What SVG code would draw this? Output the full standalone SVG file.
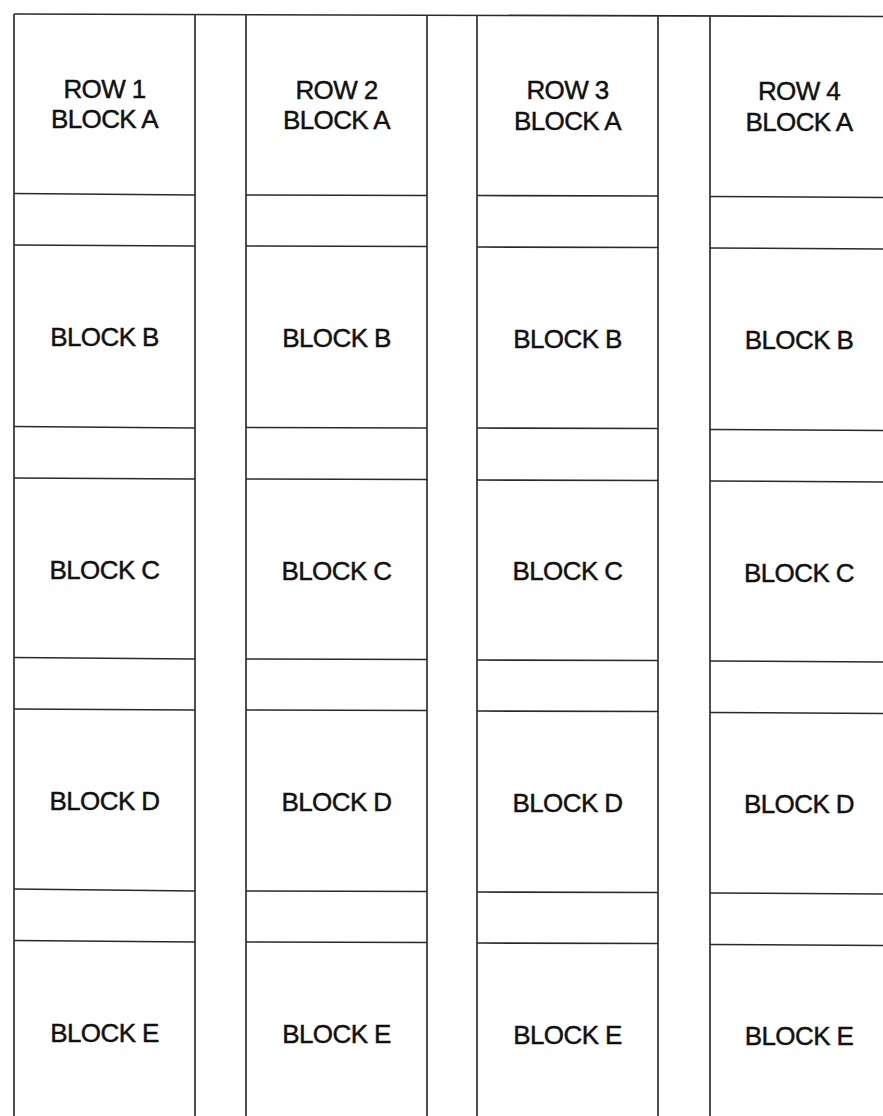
<svg xmlns="http://www.w3.org/2000/svg" width="883" height="1116" viewBox="0 0 883 1116">
<style>
.ln{stroke:#2a2a2a;stroke-width:1.6;fill:none}
.vl{stroke:#3a3a3a;stroke-width:1.8;fill:none}
.t{font-family:"Liberation Sans",Arial,sans-serif;font-size:26px;fill:#111;stroke:#111;stroke-width:0.45;letter-spacing:-0.6px;text-anchor:middle}
</style>
<rect width="883" height="1116" fill="#fff"/>
<g id="grid">
<line class="ln" x1="14" y1="14" x2="883" y2="16.5"/>
<line class="vl" x1="14" y1="14" x2="14" y2="1116"/>
<line class="vl" x1="195" y1="14" x2="195" y2="1116"/>
<line class="vl" x1="246" y1="14" x2="246" y2="1116"/>
<line class="vl" x1="427" y1="15" x2="427" y2="1116"/>
<line class="vl" x1="477" y1="15" x2="477" y2="1116"/>
<line class="vl" x1="658" y1="16" x2="658" y2="1116"/>
<line class="vl" x1="710" y1="16" x2="710" y2="1116"/>
</g>
<g id="col1">
<g id="r1a"><text class="t" x="104.5" y="98">ROW 1</text><text class="t" x="104.5" y="128">BLOCK A</text><line class="ln" x1="14" y1="193.5" x2="195" y2="195"/></g>
<g id="r1b"><line class="ln" x1="14" y1="245" x2="195" y2="246"/><text class="t" x="104.5" y="346">BLOCK B</text><line class="ln" x1="14" y1="426.5" x2="195" y2="428"/></g>
<g id="r1c"><line class="ln" x1="14" y1="478" x2="195" y2="479"/><text class="t" x="104.5" y="579">BLOCK C</text><line class="ln" x1="14" y1="657.5" x2="195" y2="659"/></g>
<g id="r1d"><line class="ln" x1="14" y1="709" x2="195" y2="710"/><text class="t" x="104.5" y="810">BLOCK D</text><line class="ln" x1="14" y1="889" x2="195" y2="891"/></g>
<g id="r1e"><line class="ln" x1="14" y1="940.5" x2="195" y2="942"/><text class="t" x="104.5" y="1042">BLOCK E</text></g>
</g>
<g id="col2">
<g id="r2a"><text class="t" x="336.5" y="99">ROW 2</text><text class="t" x="336.5" y="129">BLOCK A</text><line class="ln" x1="246" y1="195" x2="427" y2="195.5"/></g>
<g id="r2b"><line class="ln" x1="246" y1="246" x2="427" y2="246.5"/><text class="t" x="336.5" y="347">BLOCK B</text><line class="ln" x1="246" y1="427.5" x2="427" y2="428"/></g>
<g id="r2c"><line class="ln" x1="246" y1="479" x2="427" y2="479.5"/><text class="t" x="336.5" y="580">BLOCK C</text><line class="ln" x1="246" y1="659" x2="427" y2="659.5"/></g>
<g id="r2d"><line class="ln" x1="246" y1="710" x2="427" y2="710.5"/><text class="t" x="336.5" y="811">BLOCK D</text><line class="ln" x1="246" y1="891" x2="427" y2="891.5"/></g>
<g id="r2e"><line class="ln" x1="246" y1="942" x2="427" y2="942.5"/><text class="t" x="336.5" y="1043">BLOCK E</text></g>
</g>
<g id="col3">
<g id="r3a"><text class="t" x="567.5" y="99">ROW 3</text><text class="t" x="567.5" y="130">BLOCK A</text><line class="ln" x1="477" y1="195.5" x2="658" y2="196"/></g>
<g id="r3b"><line class="ln" x1="477" y1="247" x2="658" y2="247.5"/><text class="t" x="567.5" y="348">BLOCK B</text><line class="ln" x1="477" y1="428" x2="658" y2="428.5"/></g>
<g id="r3c"><line class="ln" x1="477" y1="480" x2="658" y2="480.5"/><text class="t" x="567.5" y="580">BLOCK C</text><line class="ln" x1="477" y1="660" x2="658" y2="660.5"/></g>
<g id="r3d"><line class="ln" x1="477" y1="711" x2="658" y2="711.5"/><text class="t" x="567.5" y="812">BLOCK D</text><line class="ln" x1="477" y1="892" x2="658" y2="892.5"/></g>
<g id="r3e"><line class="ln" x1="477" y1="943" x2="658" y2="943.5"/><text class="t" x="567.5" y="1044">BLOCK E</text></g>
</g>
<g id="col4">
<g id="r4a"><text class="t" x="799" y="100">ROW 4</text><text class="t" x="799" y="131">BLOCK A</text><line class="ln" x1="710" y1="196.5" x2="883" y2="197.5"/></g>
<g id="r4b"><line class="ln" x1="710" y1="248" x2="883" y2="249"/><text class="t" x="799" y="349">BLOCK B</text><line class="ln" x1="710" y1="429.5" x2="883" y2="430.5"/></g>
<g id="r4c"><line class="ln" x1="710" y1="481" x2="883" y2="482"/><text class="t" x="799" y="582">BLOCK C</text><line class="ln" x1="710" y1="661" x2="883" y2="662"/></g>
<g id="r4d"><line class="ln" x1="710" y1="712.5" x2="883" y2="713.5"/><text class="t" x="799" y="813">BLOCK D</text><line class="ln" x1="710" y1="893" x2="883" y2="894"/></g>
<g id="r4e"><line class="ln" x1="710" y1="944.5" x2="883" y2="945.5"/><text class="t" x="799" y="1045">BLOCK E</text></g>
</g>
</svg>
